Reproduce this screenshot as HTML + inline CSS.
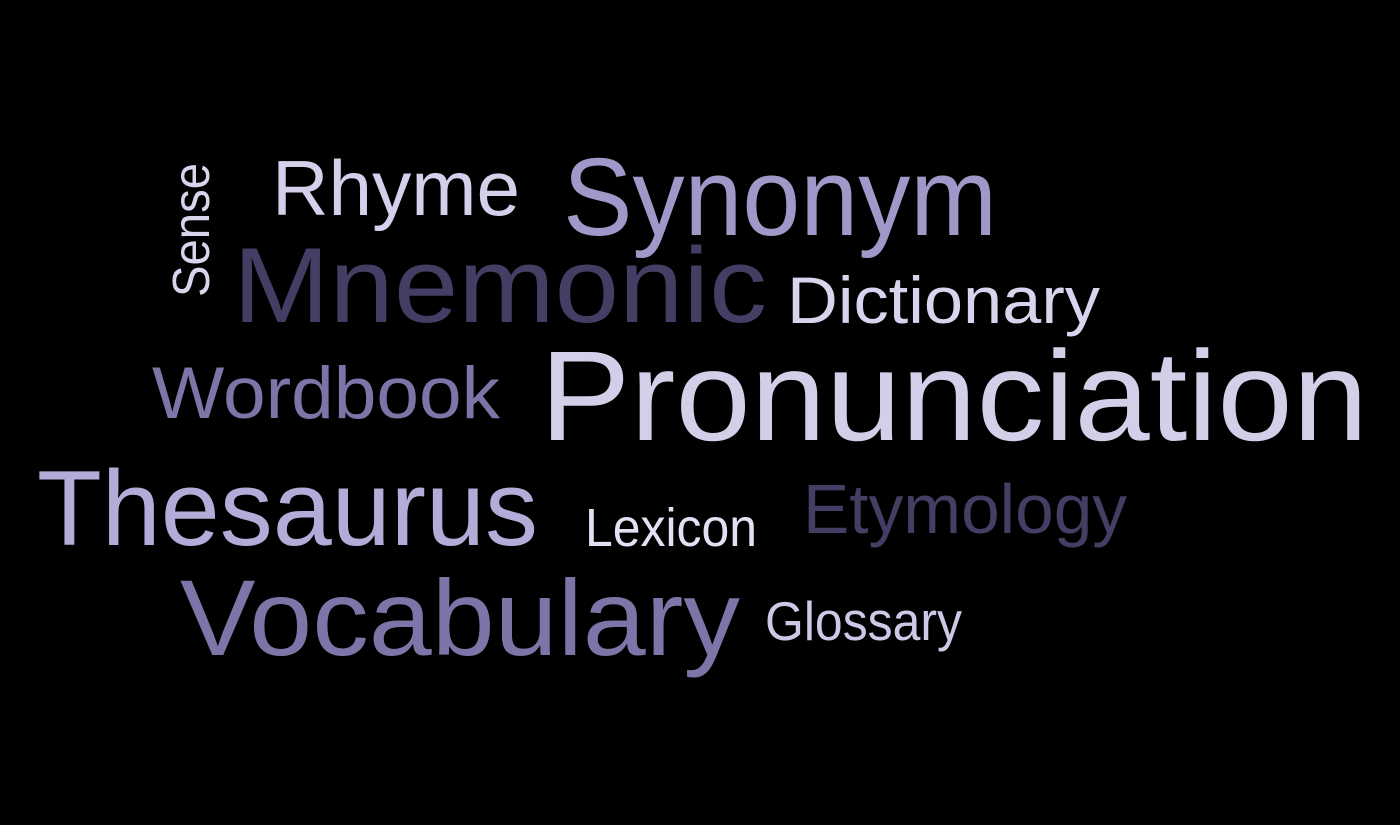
<!DOCTYPE html>
<html><head><meta charset="utf-8"><style>
html,body{margin:0;padding:0;background:#000;width:1400px;height:825px;overflow:hidden}
svg text{font-family:"Liberation Sans",sans-serif}
</style></head><body>
<svg id="cloud" width="1400" height="825" viewBox="0 0 1400 825">
<rect width="1400" height="825" fill="#000"/>
</svg>
<script>
const words = ["Sense","Rhyme","Synonym","Mnemonic","Dictionary","Wordbook","Pronunciation","Thesaurus","Lexicon","Etymology","Vocabulary","Glossary"];
const weights = [52,78,110,107,66,73,128,107,54,70,108,55];
const colors = ["#d8d4ec","#d4cfea","#a098c8","#453d63","#d8d4ee","#7d75a8","#d4cfe8","#b4acd8","#e4e0f4","#453d63","#7d75a8","#cdc8e6"];
const layout = [[209,297,134,1],[272,215,248,0],[563,235,434,0],[233,322,534,0],[787,323,313,0],[152,418,348,0],[540,440,828,0],[37,545,501,0],[585,546,172,0],[803,533,324,0],[180,655,560,0],[765,640,197,0]];
const svg = document.getElementById('cloud');
const NS = 'http://www.w3.org/2000/svg';
words.forEach((w,i)=>{
  const [x,y,len,rot] = layout[i];
  const t = document.createElementNS(NS,'text');
  
  
  t.setAttribute('font-size', weights[i]);
  t.setAttribute('fill', colors[i]);
  t.setAttribute('textLength', len);
  t.setAttribute('lengthAdjust', 'spacingAndGlyphs');
  if (rot) { t.setAttribute('transform', `translate(${x},${y}) rotate(-90)`); }
  else { t.setAttribute('x', x); t.setAttribute('y', y); }
  t.textContent = w;
  svg.appendChild(t);
});
</script>
</body></html>
